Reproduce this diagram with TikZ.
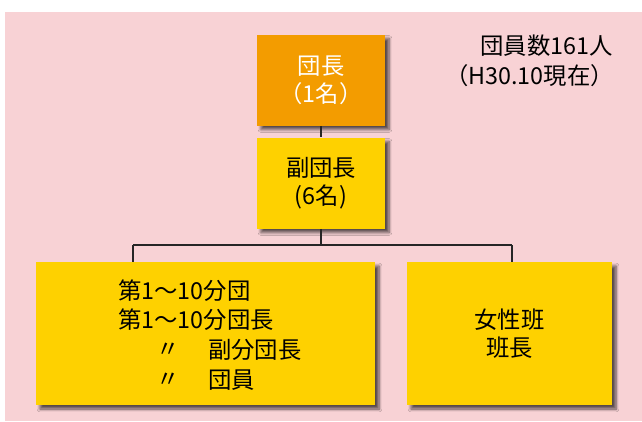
\documentclass[tikz,border=0pt]{standalone}
\usepackage{fontspec}
\setmainfont{Noto Sans CJK JP}
\usetikzlibrary{shadows,shadows.blur}
\definecolor{bgpink}{RGB}{248,210,213}
\definecolor{boxorange}{RGB}{243,156,0}
\definecolor{boxyellow}{RGB}{254,209,0}
\newcommand{\boxfont}{\fontsize{17.5}{21}\selectfont}
\tikzset{
  orgbox/.style={draw=none, minimum width=96pt, minimum height=68.25pt, align=center, inner sep=0pt, font=\boxfont,
    blur shadow={shadow xshift=3pt, shadow yshift=-3pt, shadow blur steps=6, shadow blur extra rounding=0pt, shadow opacity=65}},
  txt/.style={inner sep=0pt, font=\boxfont},
  conn/.style={line width=0.8pt, draw=black!85}
}
\begin{document}
\begin{tikzpicture}[x=0.75pt,y=-0.75pt]
\useasboundingbox (0,0) rectangle (642,421);
\fill[white] (0,0) rectangle (642,421);
\fill[bgpink] (5,12) rectangle (642,421);

\node[orgbox, fill=boxorange, text=white] (dan) at (321,80) {団長\\（1名）};
\node[orgbox, fill=boxyellow] (fuku) at (321,183) {副団長\\(6名)};
\node[orgbox, fill=boxyellow, minimum width=254.25pt, minimum height=107.25pt] (left) at (205.5,333.5) {};
\node[orgbox, fill=boxyellow, minimum width=153.75pt, minimum height=107.25pt] (right) at (509.5,333.5) {女性班\\班長};

\coordinate (j) at (321,245);
\coordinate (jl) at (133,245);
\coordinate (jr) at (512,245);
\draw[conn] (dan.south) -- (fuku.north);
\draw[conn] (fuku.south) -- (j);
\draw[conn] (jl) -- (jr);
\draw[conn] (jl) -- (jl |- left.north);
\draw[conn] (jr) -- (jr |- right.north);

\node[txt, anchor=west] (l1) at (118,291) {第1〜10分団};
\node[txt, anchor=west] (l2) at (118,320) {第1〜10分団長};
\node[txt] (d1) at (168,350) {〃};
\node[txt, anchor=west] (l3) at (208,350) {副分団長};
\node[txt] (d2) at (168,380) {〃};
\node[txt, anchor=west] (l4) at (208,380) {団員};

\node[txt, anchor=east] (n1) at (613,46) {団員数161人};
\node[txt, anchor=east] (n2) at (614,76) {（H30.10現在）};
\end{tikzpicture}
\end{document}
